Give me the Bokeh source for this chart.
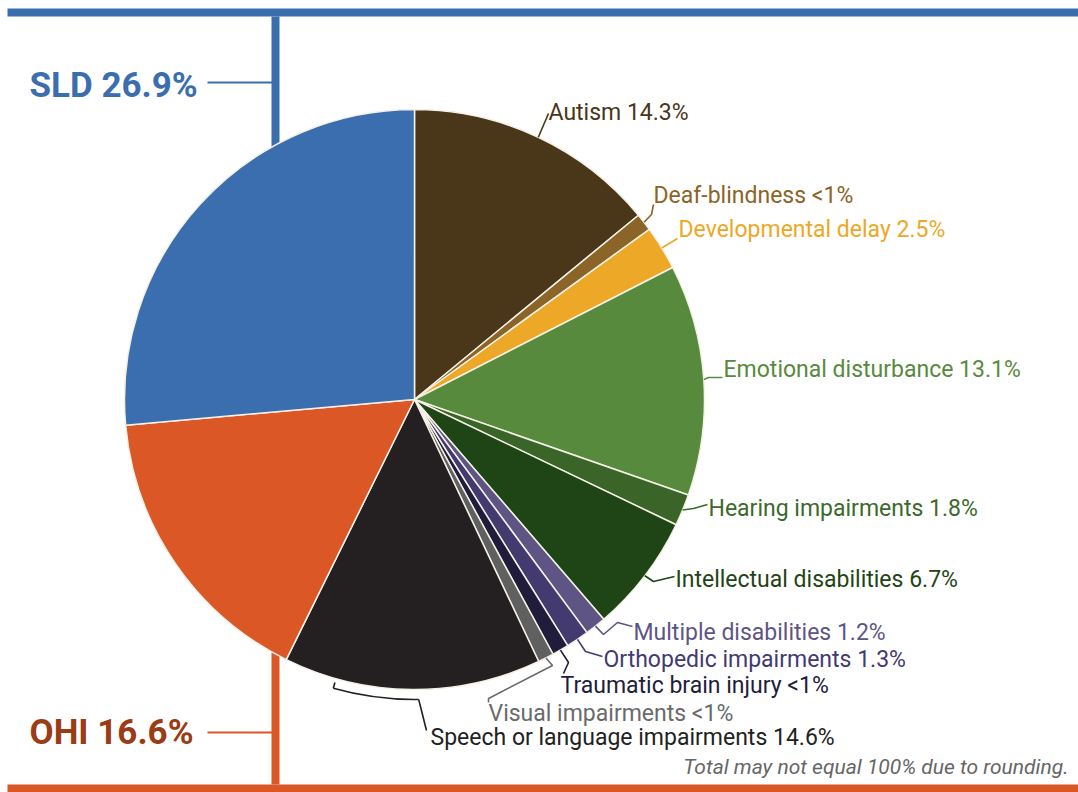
import math
from bokeh.plotting import figure
from bokeh.models import Range1d, ColumnDataSource
from bokeh.core.properties import value
from bokeh.embed import file_html
from bokeh.resources import INLINE

# ---------------- data ----------------
categories = ["Autism", "Deaf-blindness", "Developmental delay", "Emotional disturbance",
              "Hearing impairments", "Intellectual disabilities", "Multiple disabilities",
              "Orthopedic impairments", "Traumatic brain injury", "Visual impairments",
              "Speech or language impairments", "OHI", "SLD"]
values = [14.3, 1.0, 2.5, 13.1, 1.8, 6.7, 1.2, 1.3, 0.95, 0.9, 14.6, 16.6, 26.9]
value_text = ["14.3%", "<1%", "2.5%", "13.1%", "1.8%", "6.7%", "1.2%", "1.3%",
              "<1%", "<1%", "14.6%", "16.6%", "26.9%"]
slice_colors = ["#4a3619", "#8b6428", "#eca826", "#588a3e", "#3a6428", "#1f4415",
                "#5e5585", "#433a70", "#1f1d3b", "#606060", "#242022", "#dc5726", "#3b6eae"]
label_colors = ["#4a3619", "#8b6428", "#eca826", "#588a3e", "#3c6a2b", "#1f4415",
                "#5e5585", "#433a70", "#1f1d3b", "#6a6a6a", "#222222", "#9a3c14", "#3b6eae"]
note_text = "Total may not equal 100% due to rounding."

# ---------------- layout (screen px) ----------------
W, H = 1078, 792
def sy(y):
    return H - y

CX, CY, R = 414, sy(399), 290
FONT = value("Roboto")
TXT_SHIFT = 8  # baseline correction for 23px text

# label anchor (left x, baseline y) and leader waypoints after the slice edge point
label_layout = {
    "Autism": ((548, 120), [(548, 113)]),
    "Deaf-blindness": ((653, 203), [(651, 214), (653, 204)]),
    "Developmental delay": ((678, 237), [(677, 238)]),
    "Emotional disturbance": ((723, 377), [(708, 377), (722, 377)]),
    "Hearing impairments": ((708, 516), [(693, 508), (707, 504)]),
    "Intellectual disabilities": ((675, 587), [(653, 581), (674, 576)]),
    "Multiple disabilities": ((633, 640), [(603, 634), (617, 622), (632, 626)]),
    "Orthopedic impairments": ((603, 667), [(585, 651), (602, 656)]),
    "Traumatic brain injury": ((560, 693), [(568, 662), (563, 673)]),
    "Visual impairments": ((488, 721), [(552, 665), (488, 698), (488, 702)]),
    "Speech or language impairments": ((430, 745), None),
}

p = figure(width=W, height=H, x_range=Range1d(0, W), y_range=Range1d(0, H),
           output_backend="svg", toolbar_location=None, min_border=0,
           x_axis_type=None, y_axis_type=None)
p.outline_line_color = None
p.background_fill_color = "white"
p.border_fill_color = "white"
for g in p.grid:
    g.visible = False

BLUE = slice_colors[-1]
ORANGE = slice_colors[-2]

# frame bars
p.quad(left=7, right=1078, top=sy(8), bottom=sy(16), fill_color=BLUE, line_color=None)
p.quad(left=7, right=1078, top=sy(784), bottom=sy(792), fill_color=ORANGE, line_color=None)
p.quad(left=271, right=279, top=sy(16), bottom=sy(399), fill_color=BLUE, line_color=None)
p.quad(left=271, right=279, top=sy(399), bottom=sy(784), fill_color=ORANGE, line_color=None)
p.line([207, 272], [sy(82), sy(82)], line_color=BLUE, line_width=2)
p.line([207, 272], [sy(732), sy(732)], line_color=ORANGE, line_width=2)

# wedges
total = sum(values)
starts, ends, mids = [], [], []
cum = 0.0
for v in values:
    t0 = cum / total * 2 * math.pi
    cum += v
    t1 = cum / total * 2 * math.pi
    starts.append(math.pi / 2 - t1)
    ends.append(math.pi / 2 - t0)
    mids.append((t0 + t1) / 2)

src = ColumnDataSource(dict(cat=categories, start=starts, end=ends, color=slice_colors))
p.wedge(x=CX, y=CY, radius=R, start_angle="start", end_angle="end",
        fill_color="color", line_color="#f4f0e6", line_width=1.5, source=src)

# leaders & labels
lx, ly, ltxt, lcol = [], [], [], []
lead_xs, lead_ys, lead_col = [], [], []
for i, cat in enumerate(categories):
    if cat not in label_layout:
        continue
    (tx, ty), pts = label_layout[cat]
    lx.append(tx)
    ly.append(sy(ty - TXT_SHIFT))
    ltxt.append(f"{cat} {value_text[i]}")
    lcol.append(label_colors[i])
    if pts is not None:
        th = mids[i]
        ex = CX + R * math.sin(th)
        ey = CY + R * math.cos(th)
        xs = [ex] + [q[0] for q in pts]
        ys = [ey] + [sy(q[1]) for q in pts]
        lead_xs.append(xs)
        lead_ys.append(ys)
        lead_col.append(label_colors[i])

p.multi_line(xs=lead_xs, ys=lead_ys, line_color=lead_col, line_width=1.6)

# speech bracket
p.arc(x=CX, y=CY, radius=300, start_angle=math.radians(90 - 195.7),
      end_angle=math.radians(90 - 179.2), line_color="#222222", line_width=1.6)
a0 = math.radians(195.7)
p.line([CX + 294 * math.sin(a0), CX + 300 * math.sin(a0)],
       [CY + 294 * math.cos(a0), CY + 300 * math.cos(a0)], line_color="#222222", line_width=1.6)
a1 = math.radians(179.2)
p.line([CX + 300 * math.sin(a1), 426], [CY + 300 * math.cos(a1), sy(730)],
       line_color="#222222", line_width=1.6)

lsrc = ColumnDataSource(dict(x=lx, y=ly, text=ltxt, color=lcol))
p.text(x="x", y="y", text="text", text_color="color", source=lsrc,
       text_font=FONT, text_font_size="23px", text_baseline="alphabetic", text_align="left")

# big labels
p.text(x=[29], y=[sy(97 - 12)], text=[f"SLD {value_text[12]}"], text_color=label_colors[12],
       text_font=FONT, text_font_size="35px", text_font_style="bold", text_baseline="alphabetic")
p.text(x=[29], y=[sy(744 - 12)], text=[f"OHI {value_text[11]}"], text_color=label_colors[11],
       text_font=FONT, text_font_size="35px", text_font_style="bold", text_baseline="alphabetic")

# note
p.text(x=[1068], y=[sy(773 - 7)], text=[note_text], text_color="#666666", text_font=FONT,
       text_font_size="21px", text_font_style="italic", text_align="right",
       text_baseline="alphabetic")

open("out.html", "w").write(file_html(p, INLINE))
